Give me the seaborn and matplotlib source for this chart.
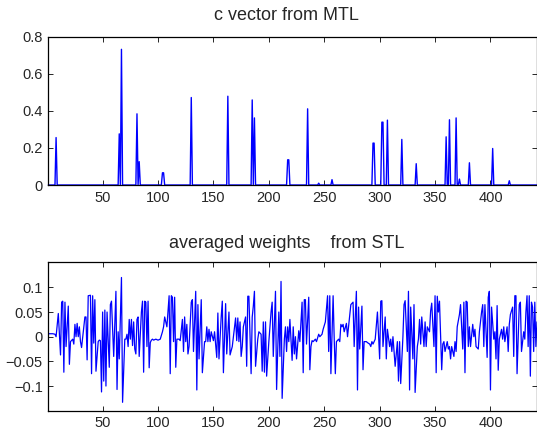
import numpy as np
import matplotlib
matplotlib.use("Agg")
import matplotlib.pyplot as plt
import seaborn as sns

N_FEATURES = 442

# sparse c vector (MTL): non-zero entries only
MTL_IDX = [8, 65, 67, 81, 83, 104, 105, 130, 163, 185, 187, 217, 218, 235, 245,
           257, 294, 295, 302, 303, 307, 320, 333, 360, 363, 369, 372, 381, 402, 417]
MTL_VAL = [0.256, 0.276, 0.732, 0.384, 0.126, 0.066, 0.066, 0.472, 0.479, 0.459,
           0.362, 0.136, 0.136, 0.411, 0.01, 0.029, 0.226, 0.226, 0.339, 0.339,
           0.35, 0.246, 0.115, 0.26, 0.352, 0.362, 0.032, 0.12, 0.197, 0.023]

# averaged weights (STL)
STL_IDX = [
    1, 3, 5, 7, 8, 10, 12, 13, 14, 15, 16, 17,
    19, 20, 21, 23, 24, 25, 26, 27, 28, 29, 30, 31,
    33, 34, 35, 36, 37, 39, 40, 41, 42, 43, 44,
    46, 47, 48, 49, 50, 51, 52, 53, 54, 56, 57, 58,
    60, 62, 63, 64, 65, 67, 68, 70, 71, 72, 73,
    74, 75, 76, 77, 78, 79, 80, 81, 82, 83,
    85, 86, 87, 88, 89, 90, 91, 92, 93, 94, 95, 96,
    98, 100, 102, 104, 105, 106, 108, 110,
    111, 112, 113, 114, 115, 116, 117, 119, 120,
    122, 123, 124, 125, 126, 127, 128, 130, 131, 132,
    134, 135, 136, 137, 139, 140, 142, 143, 144, 145,
    146, 147, 148, 150, 151, 153, 154, 155, 157, 158,
    159, 161, 162, 164, 165, 167, 168, 170, 171, 172,
    173, 174, 175, 176, 177, 179, 180, 181, 182, 184,
    185, 186, 187, 188, 190, 191, 193, 194, 195, 196,
    197, 198, 200, 202, 203, 204, 206, 207, 209,
    210, 211, 212, 214, 215, 216, 217, 218, 219,
    221, 222, 223, 224, 225, 227, 228, 230, 231, 232,
    233, 234, 236, 237, 238, 239, 240, 242, 243, 245, 246,
    248, 249, 251, 253, 254, 255, 256, 258, 259,
    260, 261, 263, 264, 265, 266, 267, 268, 270, 271,
    272, 274, 276, 277, 278, 279, 280, 281, 282, 284,
    285, 286, 288, 289, 291, 292, 293, 294, 296, 298,
    300, 301, 302, 303, 305, 306, 307, 309, 310, 311,
    312, 314, 316, 317, 318, 319, 321, 322, 323, 325,
    326, 327, 328, 330, 331, 332, 334, 335, 336, 337,
    338, 340, 341, 342, 343, 345, 346, 347, 349, 350,
    351, 352, 353, 354, 356, 357, 358, 359, 361,
    362, 363, 364, 365, 367, 368, 369, 370, 372, 373,
    375, 376, 377, 378, 379, 380, 381, 382, 384, 385,
    386, 387, 389, 390, 392, 393, 394, 395, 397,
    398, 399, 400, 401, 403, 404, 405, 406, 407, 408,
    410, 411, 412, 413, 415, 416, 417, 418, 420,
    421, 422, 423, 424, 426, 427, 428, 430, 431,
    432, 433, 434, 435, 436, 437, 438, 439, 440, 441, 442,
]
STL_W = [
    0.006, 0.006, 0.006, 0.005, 0.0, 0.047, -0.037, 0.07, 0.072, -0.072, 0.07, -0.02,
    0.062, -0.056, -0.01, -0.005, -0.015, 0.025, 0.0, 0.027, 0.0, 0.02, -0.01, -0.022,
    0.02, 0.04, 0.04, -0.047, 0.083, 0.084, -0.075, 0.083, -0.013, 0.075, -0.07,
    -0.01, -0.007, -0.008, -0.112, 0.05, -0.09, 0.054, -0.1, 0.05, -0.062, 0.065, 0.072,
    -0.04, 0.092, -0.107, 0.01, -0.045, 0.12, -0.133, -0.005, -0.005, 0.005, -0.02,
    0.035, -0.005, 0.035, -0.018, 0.03, -0.025, -0.035, 0.035, 0.04, -0.04,
    0.05, 0.072, -0.072, 0.072, 0.07, -0.02, 0.072, -0.063, -0.012, -0.007, -0.005, -0.007,
    -0.005, -0.007, -0.005, 0.01, 0.02, 0.04, 0.02, 0.083,
    -0.075, 0.083, 0.08, -0.01, 0.08, -0.062, -0.005, -0.005, -0.008,
    0.035, -0.03, 0.04, -0.01, 0.025, -0.035, -0.02, 0.07, 0.075, -0.03,
    0.092, -0.108, 0.065, -0.045, 0.075, -0.073, -0.01, -0.01, 0.02, -0.01,
    0.015, -0.01, 0.01, -0.008, 0.01, -0.042, 0.048, -0.045, 0.04, 0.072,
    -0.073, 0.067, -0.035, 0.05, -0.037, -0.02, 0.0, 0.038, -0.008, 0.038,
    -0.01, 0.03, -0.04, -0.02, 0.02, 0.04, -0.06, 0.082, 0.082, -0.075,
    0.04, 0.062, 0.092, -0.06, -0.005, 0.01, 0.005, -0.07, 0.03, -0.072,
    0.03, -0.08, -0.01, 0.05, 0.07, -0.04, 0.092, -0.107, 0.05,
    -0.04, 0.112, -0.125, -0.005, 0.02, -0.03, 0.02, -0.01, 0.035,
    -0.048, 0.02, -0.035, 0.0, -0.045, 0.012, -0.01, 0.07, -0.073, 0.075,
    0.075, -0.015, 0.08, -0.067, -0.02, -0.008, -0.01, -0.005, -0.01, 0.005, 0.0,
    0.005, 0.015, 0.03, 0.083, -0.03, 0.083, -0.075, 0.083, -0.005,
    -0.075, -0.01, -0.005, -0.01, 0.025, 0.02, 0.025, 0.01, 0.027, 0.0,
    0.022, 0.065, 0.07, -0.02, 0.04, 0.092, -0.108, 0.06, -0.025, 0.062,
    -0.067, -0.01, -0.01, -0.012, -0.015, -0.02, -0.01, -0.015, -0.005, 0.05,
    -0.045, 0.072, 0.073, -0.02, 0.04, -0.045, 0.015, -0.02, -0.005, -0.03,
    0.0, -0.06, -0.01, -0.09, -0.01, -0.095, 0.0, 0.065, 0.073, -0.03,
    0.092, -0.108, 0.06, -0.045, 0.065, -0.113, -0.02, -0.005, 0.035, -0.015,
    0.04, -0.02, 0.03, -0.02, 0.02, 0.01, 0.052, 0.068, -0.02, 0.083,
    -0.073, 0.082, 0.05, 0.072, -0.067, -0.015, -0.01, -0.03, -0.01,
    -0.025, -0.02, -0.045, -0.02, -0.04, -0.01, -0.03, 0.02, 0.045, 0.065,
    -0.025, 0.07, -0.073, 0.072, 0.07, -0.02, 0.02, -0.02, 0.025, 0.0,
    0.015, -0.02, -0.025, 0.01, 0.05, 0.065, -0.02, 0.065, -0.042,
    0.08, 0.092, -0.108, 0.06, -0.005, 0.01, -0.045, 0.063, -0.068, -0.005,
    0.015, -0.005, 0.02, -0.01, 0.02, -0.03, 0.025, 0.045, 0.06,
    -0.04, 0.083, 0.083, -0.075, 0.065, 0.07, -0.03, 0.01, -0.005,
    0.05, 0.083, -0.02, 0.083, -0.08, 0.07, 0.06, -0.03, 0.07, -0.02, 0.03,
]

X_TICKS = [50, 100, 150, 200, 250, 300, 350, 400]
MTL_YTICKS = [0, 0.2, 0.4, 0.6, 0.8]
MTL_YLABELS = ["0", "0.2", "0.4", "0.6", "0.8"]
STL_YTICKS = [-0.1, -0.05, 0, 0.05, 0.1]
STL_YLABELS = ["\u22120.1", "\u22120.05", "0", "0.05", "0.1"]

sns.set_style("ticks")
plt.rcParams["font.family"] = ["Liberation Sans", "DejaVu Sans"]
TXT = "#262626"

idx = np.arange(1, N_FEATURES + 1)
c_vec = np.zeros(N_FEATURES)
c_vec[np.array(MTL_IDX) - 1] = MTL_VAL

fig = plt.figure(figsize=(5.37, 4.34), dpi=100)
ax1 = fig.add_axes([0.09, 0.5737, 0.91, 0.3417])
ax2 = fig.add_axes([0.09, 0.0537, 0.91, 0.3433])


def style_axis(ax):
    for sp in ax.spines.values():
        sp.set_visible(True)
        sp.set_linewidth(0.9)
        sp.set_color("black")
    ax.tick_params(direction="in", length=3.5, width=0.7, top=True, right=True,
                   labelsize=10.5, labelcolor=TXT, pad=4)
    ax.set_xlabel("")
    ax.set_ylabel("")


sns.lineplot(x=idx, y=c_vec, color="blue", linewidth=1.0, estimator=None,
             ax=ax1, clip_on=False)
ax1.set_xlim(1, N_FEATURES)
ax1.set_ylim(0, 0.8)
ax1.set_xticks(X_TICKS)
ax1.set_yticks(MTL_YTICKS)
ax1.set_yticklabels(MTL_YLABELS)
style_axis(ax1)
ax1.set_title("c vector from MTL", fontsize=13, color=TXT, pad=12, x=0.488)

sns.lineplot(x=STL_IDX, y=STL_W, color="blue", linewidth=0.9, estimator=None, ax=ax2)
ax2.set_xlim(1, N_FEATURES)
ax2.set_ylim(-0.15, 0.152)
ax2.set_xticks(X_TICKS)
ax2.set_yticks(STL_YTICKS)
ax2.set_yticklabels(STL_YLABELS)
style_axis(ax2)
ax2.set_title("averaged weights    from STL", fontsize=13, color=TXT, pad=10, x=0.488)

fig.savefig("out.png", dpi=100)
